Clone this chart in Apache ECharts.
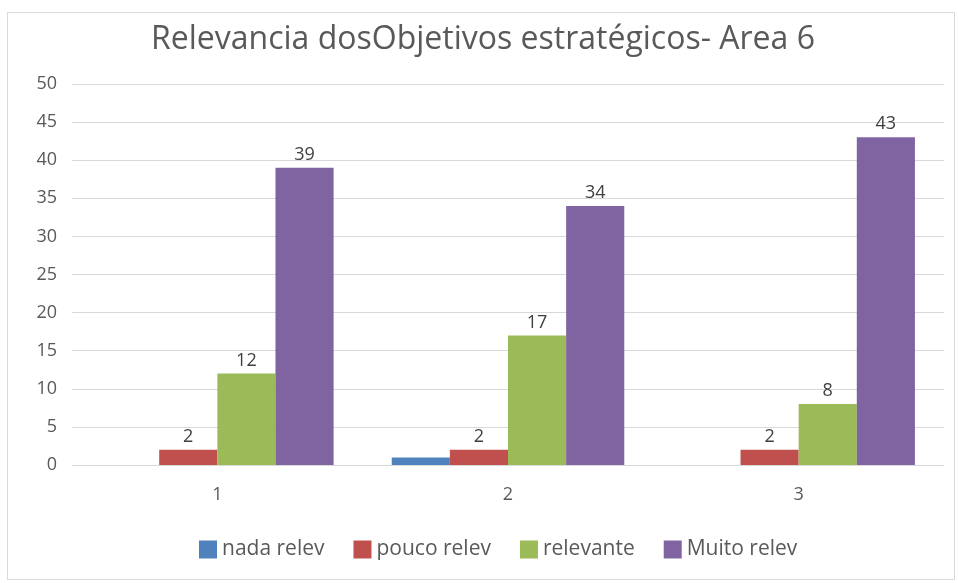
<!DOCTYPE html>
<html lang="pt">
<head>
    <meta charset="UTF-8">
    <title>Relevancia dos Objetivos</title>
    <style>
        html, body { margin: 0; padding: 0; background: #fff; }
        #main { width: 958px; height: 583px; }
    </style>
</head>
<body>
<div id="main"></div>
<script src="https://cdn.jsdelivr.net/npm/echarts@6/dist/echarts.min.js"></script>
<script>
    // categorias e séries
    const categories = ['1', '2', '3'];
    const nadaRelev = [0, 1, 0];
    const poucoRelev = [2, 2, 2];
    const relevante = [12, 17, 8];
    const muitoRelev = [39, 34, 43];

    const chart = echarts.init(document.getElementById('main'));
    const font = '"Open Sans", sans-serif';
    const label = {
        show: true,
        position: 'top',
        color: '#404040',
        fontSize: 18,
        fontFamily: font,
        distance: 4
    };

    function bar(name, data, color, withLabel) {
        return {
            name: name,
            type: 'bar',
            data: data,
            barGap: '0%',
            barCategoryGap: '20%',
            itemStyle: { color: color },
            label: withLabel ? label : { show: false }
        };
    }

    chart.setOption({
        animation: false,
        textStyle: { fontFamily: font },
        graphic: [{
            type: 'rect',
            shape: { x: 7.5, y: 12.5, width: 947, height: 567 },
            style: { fill: 'none', stroke: '#D9D9D9', lineWidth: 1 },
            silent: true
        }],
        title: {
            text: 'Relevancia dosObjetivos estratégicos- Area 6',
            left: 146,
            top: 19,
            textStyle: { color: '#595959', fontSize: 32, fontWeight: 'normal', fontFamily: font }
        },
        legend: {
            bottom: 18,
            left: 194,
            itemWidth: 18,
            itemHeight: 18,
            itemGap: 29,
            icon: 'rect',
            textStyle: { color: '#595959', fontSize: 21, fontFamily: font, padding: [0, 0, 0, 0] }
        },
        grid: { left: 72, right: 14, top: 84, bottom: 118, containLabel: false },
        xAxis: {
            type: 'category',
            data: categories,
            axisTick: { show: false },
            axisLine: { lineStyle: { color: '#D9D9D9' } },
            axisLabel: { color: '#595959', fontSize: 18, margin: 21, fontFamily: font }
        },
        yAxis: {
            type: 'value',
            min: 0,
            max: 50,
            interval: 5,
            axisLine: { show: false },
            axisTick: { show: false },
            splitLine: { lineStyle: { color: '#D9D9D9' } },
            axisLabel: { color: '#595959', fontSize: 18, margin: 15, fontFamily: font }
        },
        series: [
            bar('nada relev', nadaRelev, '#4F81BD', false),
            bar('pouco relev', poucoRelev, '#C0504D', true),
            bar('relevante', relevante, '#9BBB59', true),
            bar('Muito relev', muitoRelev, '#8064A2', true)
        ]
    });
</script>
</body>
</html>
